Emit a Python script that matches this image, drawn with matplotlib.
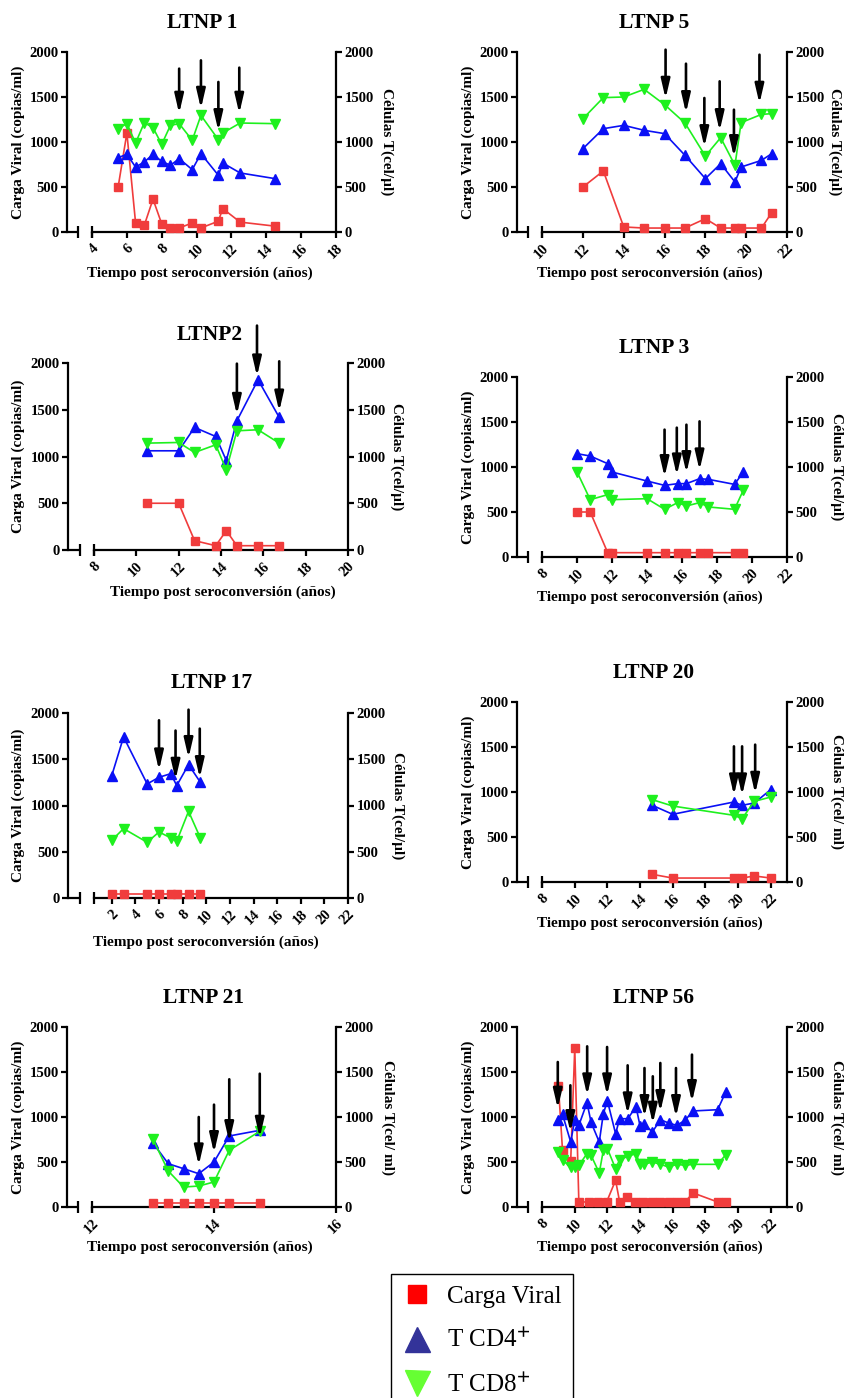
import matplotlib
matplotlib.use('Agg')
import matplotlib.pyplot as plt
from matplotlib.lines import Line2D

plt.rcParams['font.family'] = ['Liberation Serif', 'DejaVu Serif']
plt.rcParams['font.weight'] = 'bold'
plt.rcParams['mathtext.fontset'] = 'stix'

RED = '#f03c3c'
BLUE = '#0a10f5'
GREEN = '#1ef01e'

# ---- LTNP 1
t1 = [5.5, 6.0, 6.5, 7.0, 7.5, 8.0, 8.5, 9.0, 9.75, 10.25, 11.25, 11.5, 12.5, 14.5]
cv1 = [500, 1100, 100, 75, 365, 90, 45, 45, 100, 45, 120, 260, 110, 65]
cd4_1 = [826, 863, 722, 778, 863, 785, 741, 815, 693, 870, 630, 767, 656, 593]
cd8_1 = [1148, 1204, 989, 1215, 1159, 974, 1185, 1204, 1019, 1296, 1026, 1100, 1211, 1204]
arr1_x = [9.0, 10.25, 11.25, 12.45]
arr1_top = [1815, 1907, 1667, 1826]
arr1_tip = [1315, 1370, 1122, 1315]

# ---- LTNP 5
t5 = [12, 13, 14, 15, 16, 17, 18, 18.75, 19.45, 19.75, 20.75, 21.25]
cv5 = [500, 678, 56, 44, 44, 44, 148, 44, 44, 44, 44, 215]
cd4_5 = [926, 1148, 1185, 1130, 1093, 852, 593, 759, 556, 722, 796, 870]
cd8_5 = [1259, 1493, 1500, 1585, 1415, 1211, 844, 1048, 741, 1215, 1307, 1315]
arr5_x = [16.05, 17.05, 17.95, 18.7, 19.4, 20.65]
arr5_top = [2026, 1870, 1489, 1674, 1359, 1970]
arr5_tip = [1481, 1322, 944, 1122, 833, 1426]

# ---- LTNP2
t2 = [10.5, 12.0, 12.75, 13.75, 14.25, 14.75, 15.75, 16.75]
cv2 = [500, 500, 100, 46, 207, 46, 46, 46]
cd4_2 = [1061, 1061, 1311, 1214, 957, 1382, 1821, 1418]
cd8_2 = [1143, 1150, 1043, 1125, 857, 1275, 1286, 1143]
arr2_x = [14.75, 15.7, 16.75]
arr2_top = [1993, 2400, 2018]
arr2_tip = [1446, 1857, 1482]

# ---- LTNP 3
t3 = [10.0, 10.75, 11.75, 12.0, 14.0, 15.0, 15.75, 16.25, 17.0, 17.5, 19.0, 19.5]
cv3 = [500, 500, 48, 48, 48, 48, 48, 48, 48, 48, 48, 48]
cd4_3 = [1148, 1122, 1037, 944, 844, 796, 815, 815, 870, 863, 807, 944]
cd8_3 = [944, 637, 693, 637, 648, 530, 604, 567, 604, 556, 530, 741]
arr3_x = [15.0, 15.7, 16.25, 17.0]
arr3_top = [1415, 1437, 1470, 1507]
arr3_tip = [889, 907, 933, 963]

# ---- LTNP 17
t17 = [2, 3, 5, 6, 7, 7.5, 8.5, 9.5]
cv17 = [45, 45, 45, 45, 45, 45, 45, 45]
cd4_17 = [1323, 1741, 1233, 1305, 1344, 1215, 1442, 1251]
cd8_17 = [624, 750, 602, 714, 649, 613, 937, 649]
arr17_x = [6.0, 7.4, 8.5, 9.45]
arr17_top = [1921, 1810, 2036, 1831]
arr17_tip = [1380, 1279, 1514, 1297]

# ---- LTNP 20
t20 = [14.75, 16.0, 19.75, 20.25, 21.0, 22.0]
cv20 = [85, 44, 44, 44, 67, 44]
cd4_20 = [852, 752, 889, 852, 878, 1026]
cd8_20 = [915, 844, 741, 704, 896, 944]
arr20_x = [19.75, 20.25, 21.05]
arr20_top = [1507, 1507, 1526]
arr20_tip = [963, 963, 981]

# ---- LTNP 21
t21 = [13.0, 13.25, 13.5, 13.75, 14.0, 14.25, 14.75]
cv21 = [48, 48, 48, 48, 48, 48, 48]
cd4_21 = [711, 481, 426, 370, 500, 789, 852]
cd8_21 = [752, 400, 222, 233, 278, 630, 841]
arr21_x = [13.75, 14.0, 14.25, 14.75]
arr21_top = [1000, 1137, 1419, 1481]
arr21_tip = [463, 600, 722, 770]

# ---- LTNP 56
t56_cv = [9.0, 9.25, 9.75, 10.0, 10.25, 10.85, 11.45, 11.95, 12.5, 12.75, 13.2, 13.7,
          14.15, 14.75, 15.25, 15.75, 16.25, 16.75, 17.25, 18.75, 19.25]
cv56 = [1341, 630, 507, 1767, 56, 56, 56, 56, 296, 56, 111, 56,
        56, 56, 56, 56, 56, 56, 156, 56, 56]
t56 = [9.0, 9.25, 9.75, 10.0, 10.25, 10.75, 11.0, 11.5, 11.75, 12.0, 12.5, 12.75,
       13.25, 13.75, 14.0, 14.25, 14.75, 15.25, 15.75, 16.25, 16.75, 17.25, 18.75, 19.25]
cd4_56 = [970, 1030, 722, 970, 907, 1160, 940, 722, 1037, 1180, 815, 981,
          981, 1115, 900, 926, 833, 970, 933, 907, 963, 1067, 1081, 1278]
cd8_56 = [611, 519, 444, 444, 463, 593, 574, 378, 630, 648, 426, 526,
          563, 593, 474, 474, 500, 474, 444, 474, 463, 474, 474, 581]
arr56_x = [8.96, 9.73, 10.76, 11.98, 13.24, 14.27, 14.78, 15.24, 16.2, 17.18]
arr56_top = [1611, 1352, 1785, 1778, 1574, 1544, 1452, 1600, 1544, 1693]
arr56_tip = [1093, 833, 1241, 1241, 1030, 1000, 926, 1056, 1000, 1167]

W, H = 845, 1398
fig = plt.figure(figsize=(W / 100, H / 100), dpi=100)

RL_MU = 'Células T(cel/µl)'
RL_ML = 'Células T(cel/ ml)'

panels = [
    # title, (l, r, top, bottom) px, title xy, xlabel xy, ylabel x, rlabel x, x range, ticks, right label, data
    ('LTNP 1', (67, 336, 52, 232), (202, 23), (200, 273), 18, 387, (4, 18), list(range(4, 19, 2)), RL_MU,
     t1, cv1, t1, cd4_1, cd8_1, arr1_x, arr1_top, arr1_tip),
    ('LTNP 5', (517, 787, 52, 232), (654, 23), (650, 273), 468, 835, (10, 22), list(range(10, 23, 2)), RL_MU,
     t5, cv5, t5, cd4_5, cd8_5, arr5_x, arr5_top, arr5_tip),
    ('LTNP2', (68, 348, 363, 550), (210, 335), (223, 592), 18, 397, (8, 20), list(range(8, 21, 2)), RL_MU,
     t2, cv2, t2, cd4_2, cd8_2, arr2_x, arr2_top, arr2_tip),
    ('LTNP 3', (517, 787, 377, 557), (654, 348), (650, 597), 468, 837, (8, 22), list(range(8, 23, 2)), RL_MU,
     t3, cv3, t3, cd4_3, cd8_3, arr3_x, arr3_top, arr3_tip),
    ('LTNP 17', (68, 348, 713, 898), (212, 683), (206, 942), 18, 398, (0.5, 22), list(range(2, 23, 2)), RL_MU,
     t17, cv17, t17, cd4_17, cd8_17, arr17_x, arr17_top, arr17_tip),
    ('LTNP 20', (517, 787, 702, 882), (654, 673), (650, 923), 468, 837, (8, 23), list(range(8, 23, 2)), RL_ML,
     t20, cv20, t20, cd4_20, cd8_20, arr20_x, arr20_top, arr20_tip),
    ('LTNP 21', (67, 336, 1027, 1207), (204, 998), (200, 1247), 18, 388, (12, 16), [12, 14, 16], RL_ML,
     t21, cv21, t21, cd4_21, cd8_21, arr21_x, arr21_top, arr21_tip),
    ('LTNP 56', (517, 787, 1027, 1207), (654, 998), (650, 1247), 468, 837, (8, 23), list(range(8, 23, 2)), RL_ML,
     t56_cv, cv56, t56, cd4_56, cd8_56, arr56_x, arr56_top, arr56_tip),
]

LW = 1.6
for (title, (l, r, top, bot), txy, xxy, ylx, rlx, (xs, xe), ticks, rlab,
     tcv, cv, tt, cd4, cd8, ax_x, ax_top, ax_tip) in panels:
    ax = fig.add_axes([l / W, 1 - bot / H, (r - l) / W, (bot - top) / H])
    f = 0.093
    x0 = xs - f / (1 - f) * (xe - xs)
    ax.set_xlim(x0, xe)
    ax.set_ylim(0, 2000)
    ax.patch.set_visible(False)
    ax.spines['top'].set_visible(False)
    for s in ['left', 'right', 'bottom']:
        ax.spines[s].set_linewidth(LW)
    ax.spines['bottom'].set_bounds(xs, xe)
    ax.set_xticks(ticks)
    ax.set_yticks([0, 500, 1000, 1500, 2000])
    ax.tick_params(axis='y', left=True, right=True, labelleft=True, labelright=True,
                   direction='out', length=4, width=LW, pad=2, labelsize=10.5)
    ax.tick_params(axis='x', direction='out', length=4, width=LW, pad=3, labelsize=10.5)
    plt.setp(ax.get_xticklabels(), rotation=45, ha='right', rotation_mode='anchor')
    brk = x0 + 0.042 * (xe - x0)
    ax.plot([x0, brk], [0, 0], color='k', lw=LW, clip_on=False, solid_capstyle='butt')
    ax.plot([brk, xs], [0, 0], ls='none', marker='|', ms=8, mew=LW, color='k', clip_on=False)

    ax.plot(tcv, cv, color=RED, marker='s', ms=5.5, lw=1.2, clip_on=False, zorder=3)
    ax.plot(tt, cd4, color=BLUE, marker='^', ms=6.5, lw=1.2, clip_on=False, zorder=4)
    ax.plot(tt, cd8, color=GREEN, marker='v', ms=6.5, lw=1.2, clip_on=False, zorder=4)

    for x, yt, yp in zip(ax_x, ax_top, ax_tip):
        ax.annotate('', xy=(x, yp), xytext=(x, yt), annotation_clip=False, zorder=6,
                    arrowprops=dict(arrowstyle='-|>,head_length=0.95,head_width=0.22',
                                    color='k', lw=1.9, shrinkA=0, shrinkB=0, mutation_scale=12))

    ymid = 1 - (top + bot) / 2 / H
    fig.text(txy[0] / W, 1 - txy[1] / H, title, ha='center', va='center', fontsize=15.5)
    fig.text(xxy[0] / W, 1 - xxy[1] / H, 'Tiempo post seroconversión (años)',
             ha='center', va='center', fontsize=11)
    fig.text(ylx / W, ymid, 'Carga Viral (copias/ml)', rotation=90,
             ha='center', va='center', fontsize=11)
    fig.text(rlx / W, ymid, rlab, rotation=270, ha='center', va='center', fontsize=11)

handles = [
    Line2D([], [], ls='none', marker='s', ms=13, color='#ff0000'),
    Line2D([], [], ls='none', marker='^', ms=18, color='#333399'),
    Line2D([], [], ls='none', marker='v', ms=18, color='#66ff33'),
]
fig.legend(handles, ['Carga Viral', 'T CD4$^{+}$', 'T CD8$^{+}$'],
           loc='upper left', bbox_to_anchor=(391 / W, 1 - 1274 / H),
           frameon=True, fancybox=False, edgecolor='k', framealpha=1,
           prop={'family': 'Liberation Serif', 'weight': 'normal', 'size': 18},
           handlelength=1.2, handletextpad=0.6, labelspacing=0.85, borderpad=0.45,
           borderaxespad=0)

fig.savefig('out.png', dpi=100)
